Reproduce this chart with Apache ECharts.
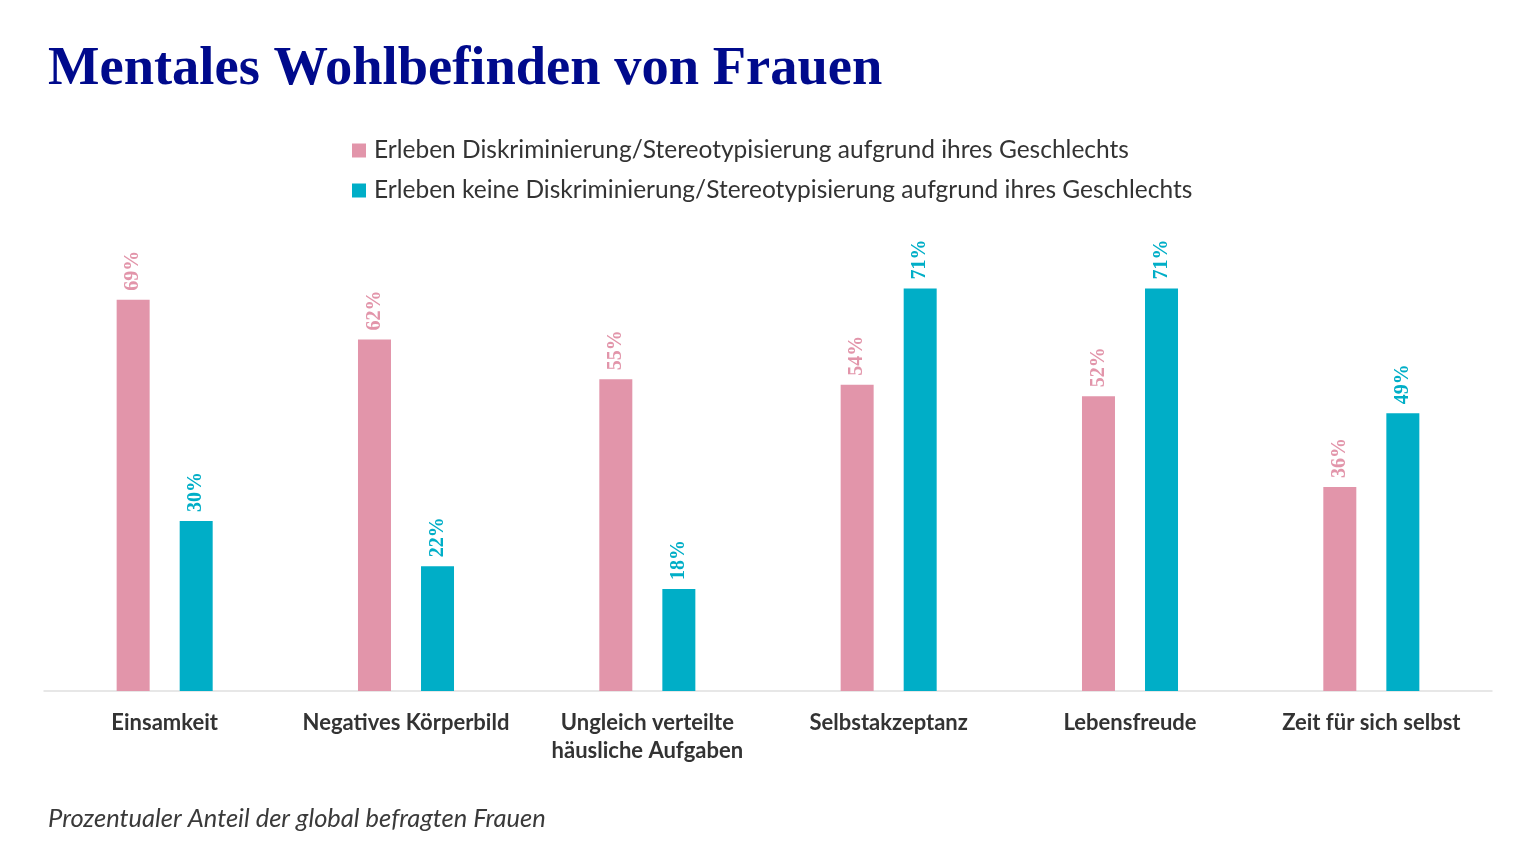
<!DOCTYPE html>
<html>
<head>
<meta charset="utf-8">
<script src="https://cdn.jsdelivr.net/npm/echarts@6/dist/echarts.min.js"></script>
<style>
  html, body { margin: 0; padding: 0; background: #fff; }
  #chart { width: 1536px; height: 864px; }
</style>
</head>
<body>
<div id="chart"></div>
<script>
const categories = ['Einsamkeit', 'Negatives Körperbild', 'Ungleich verteilte\nhäusliche Aufgaben', 'Selbstakzeptanz', 'Lebensfreude', 'Zeit für sich selbst'];
const seriesNames = [
    'Erleben Diskriminierung/Stereotypisierung aufgrund ihres Geschlechts',
    'Erleben keine Diskriminierung/Stereotypisierung aufgrund ihres Geschlechts'
];
const withDiscrimination = [69, 62, 55, 54, 52, 36];
const withoutDiscrimination = [30, 22, 18, 71, 71, 49];

const PINK = '#E295AA';
const TEAL = '#00AEC7';
const SANS = "'Source Sans Pro', 'Lato', 'Noto Sans', sans-serif";

const chart = echarts.init(document.getElementById('chart'), null, { renderer: 'canvas' });

function valueLabel(color) {
    return {
        show: true,
        position: 'top',
        rotate: 90,
        align: 'left',
        verticalAlign: 'middle',
        distance: 9,
        formatter: '{c}%',
        fontFamily: "'Liberation Serif', 'DejaVu Serif', serif",
        fontWeight: 'bold',
        fontSize: 20,
        color
    };
}

chart.setOption({
    backgroundColor: '#FFFFFF',
    animation: false,
    title: [
        {
            text: 'Mentales Wohlbefinden von Frauen',
            left: 43,
            top: 37,
            textStyle: { fontFamily: "'Liberation Serif', serif", fontWeight: 'bold', fontSize: 54.5, color: '#000A8C' }
        },
        {
            text: 'Prozentualer Anteil der global befragten Frauen',
            left: 43,
            top: 801,
            textStyle: { fontFamily: SANS, fontStyle: 'italic', fontWeight: 'normal', fontSize: 25.5, color: '#3A3A3A' }
        }
    ],
    legend: {
        orient: 'vertical',
        left: 347,
        top: 133,
        itemWidth: 14,
        itemHeight: 14,
        itemGap: 15,
        icon: 'rect',
        textStyle: { fontFamily: SANS, fontSize: 24.5, color: '#333333', padding: [0, 0, 0, 3] },
        data: seriesNames
    },
    grid: { left: 44, right: 44, top: 124, bottom: 173 },
    xAxis: {
        type: 'category',
        data: categories,
        axisLine: { lineStyle: { color: '#E0E0E0', width: 1.5 } },
        axisTick: { show: false },
        axisLabel: {
            margin: 18,
            interval: 0,
            fontFamily: SANS,
            fontWeight: 'bold',
            fontSize: 22,
            lineHeight: 28,
            color: '#333333'
        }
    },
    yAxis: {
        type: 'value',
        min: 0,
        max: 100,
        show: false,
        splitLine: { show: false }
    },
    series: [
        {
            name: seriesNames[0],
            type: 'bar',
            data: withDiscrimination,
            barWidth: 33,
            barGap: '91%',
            itemStyle: { color: PINK },
            label: valueLabel(PINK)
        },
        {
            name: seriesNames[1],
            type: 'bar',
            data: withoutDiscrimination,
            barWidth: 33,
            itemStyle: { color: TEAL },
            label: valueLabel(TEAL)
        }
    ]
});
</script>
</body>
</html>
